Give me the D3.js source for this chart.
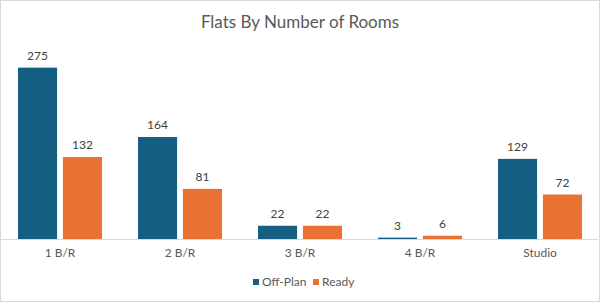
<!DOCTYPE html>
<html><head><meta charset="utf-8">
<script src="https://cdn.jsdelivr.net/npm/d3@7"></script>
<style>body{margin:0;background:#fff;} svg{display:block;font-family:"Lato","Open Sans",sans-serif;}</style>
</head><body>
<svg id="c" width="600" height="302"></svg>
<script>
const categories = ["1 B/R","2 B/R","3 B/R","4 B/R","Studio"];
const offPlan = [275,164,22,3,129];
const ready = [132,81,22,6,72];
const seriesNames = ["Off-Plan","Ready"];
const colors = ["#156082","#E97132"];

const svg = d3.select("#c");
svg.append("rect").attr("x",0.5).attr("y",0.5).attr("width",599).attr("height",301).attr("fill","#fff").attr("stroke","#d9d9d9");

const x = d3.scaleBand().domain(categories).range([0,600]).paddingInner(0.3).paddingOuter(0.15);
const x1 = d3.scaleBand().domain(seriesNames).range([0,x.bandwidth()]).paddingInner(0.13);
const y = d3.scaleLinear().domain([0,300]).range([239.5,52]);

svg.append("text").attr("x",300).attr("y",28).attr("text-anchor","middle")
  .attr("font-size",17).attr("fill","#595959").text("Flats By Number of Rooms");

const data = categories.map((c,i)=>({c, vals:[offPlan[i],ready[i]]}));
const g = svg.append("g");
data.forEach(d=>{
  d.vals.forEach((v,j)=>{
    const bx = x(d.c)+x1(seriesNames[j]);
    g.append("rect").attr("x",bx).attr("width",x1.bandwidth())
      .attr("y",y(v)).attr("height",y(0)-y(v)).attr("fill",colors[j]);
    g.append("text").attr("x",bx+x1.bandwidth()/2).attr("y",y(v)-8)
      .attr("text-anchor","middle").attr("font-size",12).attr("fill","#404040").text(v);
  });
});

const axis = d3.axisBottom(x).tickSize(0).tickPadding(9);
const ag = svg.append("g").attr("transform",`translate(0,${y(0)})`).call(axis);
ag.select(".domain").attr("stroke","#d9d9d9").attr("d","M0,0H598");
ag.selectAll("text").attr("font-size",12).attr("fill","#595959").attr("font-family","Lato, sans-serif");

const leg = svg.append("g");
const lx = [253,313];
seriesNames.forEach((s,j)=>{
  leg.append("rect").attr("x",lx[j]).attr("y",279).attr("width",6).attr("height",6).attr("fill",colors[j]);
  leg.append("text").attr("x",lx[j]+9).attr("y",285.5).attr("font-size",12).attr("fill","#595959").text(s);
});
</script>
</body></html>
